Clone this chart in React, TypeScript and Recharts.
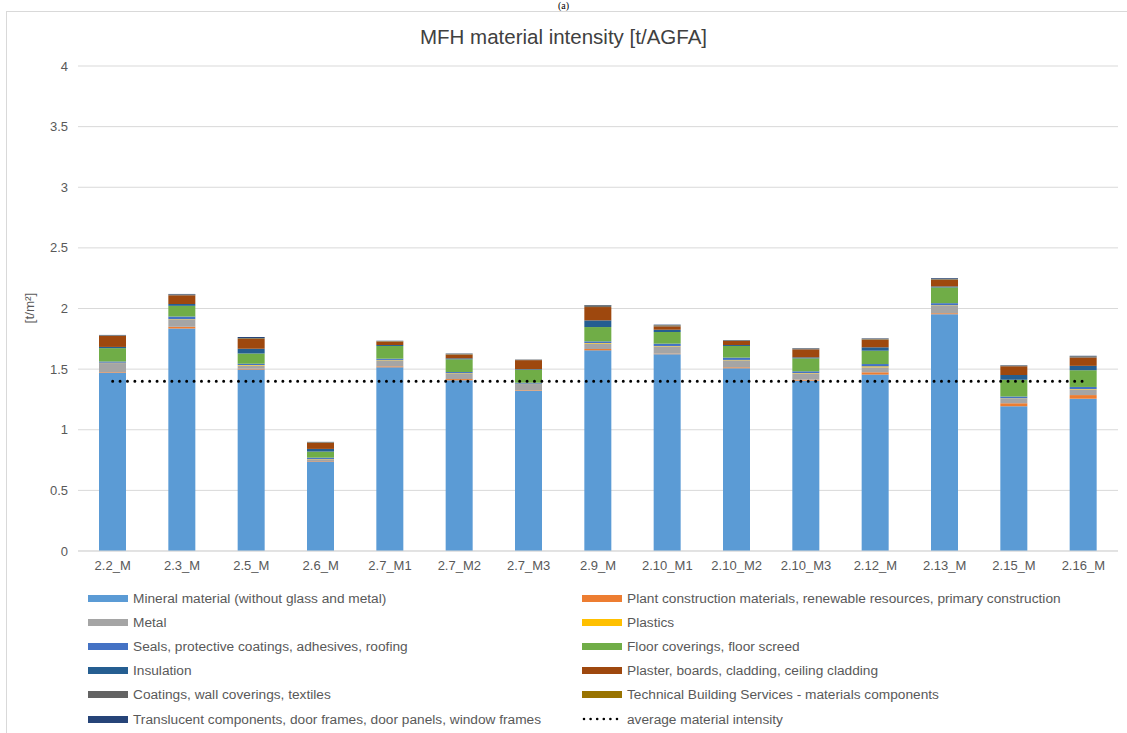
import { ComposedChart, Bar, Line, XAxis, YAxis, CartesianGrid } from 'recharts'

const categories = ['2.2_M', '2.3_M', '2.5_M', '2.6_M', '2.7_M1', '2.7_M2', '2.7_M3', '2.9_M', '2.10_M1', '2.10_M2', '2.10_M3', '2.12_M', '2.13_M', '2.15_M', '2.16_M']

const mineral = [1.47, 1.835, 1.496, 0.738, 1.515, 1.408, 1.32, 1.655, 1.623, 1.507, 1.405, 1.455, 1.953, 1.193, 1.256]
const plant = [0.005, 0.014, 0.008, 0.004, 0.008, 0.01, 0.005, 0.011, 0.005, 0.008, 0.008, 0.019, 0.008, 0.025, 0.03]
const metal = [0.075, 0.06, 0.025, 0.015, 0.05, 0.044, 0.052, 0.044, 0.06, 0.058, 0.052, 0.041, 0.063, 0.039, 0.047]
const plastics = [0.003, 0.003, 0.005, 0.002, 0.003, 0.004, 0.003, 0.005, 0.003, 0.003, 0.003, 0.008, 0.003, 0.003, 0.003]
const seals = [0.01, 0.022, 0.01, 0.011, 0.01, 0.01, 0.008, 0.014, 0.019, 0.019, 0.014, 0.019, 0.017, 0.014, 0.017]
const floor = [0.11, 0.088, 0.085, 0.05, 0.105, 0.105, 0.107, 0.118, 0.096, 0.096, 0.107, 0.11, 0.13, 0.138, 0.138]
const insulation = [0.01, 0.015, 0.039, 0.022, 0.008, 0.008, 0.005, 0.055, 0.019, 0.008, 0.008, 0.028, 0.008, 0.039, 0.036]
const plaster = [0.09, 0.072, 0.08, 0.05, 0.028, 0.03, 0.074, 0.11, 0.028, 0.033, 0.066, 0.063, 0.055, 0.072, 0.069]
const coatings = [0.003, 0.004, 0.006, 0.003, 0.003, 0.004, 0.002, 0.008, 0.006, 0.003, 0.004, 0.004, 0.005, 0.003, 0.005]
const tbs = [0.002, 0.002, 0.003, 0.002, 0.002, 0.003, 0.001, 0.004, 0.003, 0.002, 0.002, 0.003, 0.003, 0.002, 0.003]
const translucent = [0.004, 0.005, 0.007, 0.003, 0.002, 0.003, 0.002, 0.005, 0.005, 0.003, 0.004, 0.004, 0.006, 0.003, 0.006]
const average = [1.4, 1.4, 1.4, 1.4, 1.4, 1.4, 1.4, 1.4, 1.4, 1.4, 1.4, 1.4, 1.4, 1.4, 1.4]

const yTicks = [0, 0.5, 1, 1.5, 2, 2.5, 3, 3.5, 4]

const series = [
  { key: 'mineral', name: 'Mineral material (without glass and metal)', color: '#5B9BD5', values: mineral },
  { key: 'plant', name: 'Plant construction materials, renewable resources, primary construction', color: '#ED7D31', values: plant },
  { key: 'metal', name: 'Metal', color: '#A5A5A5', values: metal },
  { key: 'plastics', name: 'Plastics', color: '#FFC000', values: plastics },
  { key: 'seals', name: 'Seals, protective coatings, adhesives, roofing', color: '#4472C4', values: seals },
  { key: 'floor', name: 'Floor coverings, floor screed', color: '#70AD47', values: floor },
  { key: 'insulation', name: 'Insulation', color: '#255E91', values: insulation },
  { key: 'plaster', name: 'Plaster, boards, cladding, ceiling cladding', color: '#9E480E', values: plaster },
  { key: 'coatings', name: 'Coatings, wall coverings, textiles', color: '#636363', values: coatings },
  { key: 'tbs', name: 'Technical Building Services - materials components', color: '#997300', values: tbs },
  { key: 'translucent', name: 'Translucent components, door frames, door panels, window frames', color: '#264478', values: translucent },
]

const data = categories.map((name, i) => {
  const row: Record<string, string | number> = { name, avg: average[i] }
  series.forEach((s) => {
    row[s.key] = s.values[i]
  })
  return row
})

const font = '"Liberation Sans", Arial, sans-serif'
const textColor = '#595959'

function LegendBlock() {
  const items = [...series.map((s) => ({ name: s.name, color: s.color, dotted: false })), { name: 'average material intensity', color: '#000', dotted: true }]
  return (
    <>
      {items.map((it, i) => {
        const col = i % 2
        const row = Math.floor(i / 2)
        const left = col === 0 ? 88 : 582
        const top = 598 + row * 24.2
        return (
          <div
            key={it.name}
            style={{ position: 'absolute', left, top: top - 9, height: 18, display: 'flex', alignItems: 'center', whiteSpace: 'nowrap', fontFamily: font, fontSize: 13.7, color: textColor }}
          >
            {it.dotted ? (
              <svg width={40} height={8} style={{ marginRight: 5 }}>
                <line x1={2} y1={4} x2={38} y2={4} stroke="#000" strokeWidth={2.6} strokeDasharray="0 6.6" strokeLinecap="round" />
              </svg>
            ) : (
              <div style={{ width: 40, height: 7, background: it.color, marginRight: 5 }} />
            )}
            <span>{it.name}</span>
          </div>
        )
      })}
    </>
  )
}

export default function App() {
  return (
    <div style={{ position: 'absolute', left: 0, top: 0, width: 1127, height: 733, background: '#fff', overflow: 'hidden' }}>
      <div style={{ position: 'absolute', left: 0, right: 0, top: 0, textAlign: 'center', fontFamily: 'serif', fontSize: 10, lineHeight: '11px', color: '#000' }}>(a)</div>
      <div style={{ position: 'absolute', left: 6, top: 11, width: 1140, height: 740, border: '1px solid #d9d9d9' }} />
      <div style={{ position: 'absolute', left: 0, right: 0, top: 25, textAlign: 'center', fontFamily: font, fontSize: 20.5, color: '#404040' }}>
        MFH material intensity [t/AGFA]
      </div>
      <div
        style={{ position: 'absolute', left: 29, top: 308, transform: 'translate(-50%, -50%) rotate(-90deg)', fontFamily: font, fontSize: 13.5, color: textColor, whiteSpace: 'nowrap' }}
      >
        [t/m²]
      </div>
      <div style={{ position: 'absolute', left: 0, top: 0 }}>
        <ComposedChart width={1127} height={733} data={data} margin={{ top: 66, right: 9, left: 28, bottom: 152 }} barSize={27}>
          <CartesianGrid vertical={false} stroke="#d9d9d9" strokeWidth={1} />
          <XAxis
            dataKey="name"
            height={30}
            axisLine={{ stroke: '#d9d9d9' }}
            tickLine={false}
            tick={{ fontSize: 13, fill: textColor, fontFamily: font }}
            interval={0}
            tickMargin={4}
          />
          <YAxis
            width={50}
            domain={[0, 4]}
            ticks={yTicks}
            axisLine={false}
            tickLine={false}
            tick={{ fontSize: 13, fill: textColor, fontFamily: font }}
            tickMargin={4}
          />
          {series.map((s) => (
            <Bar key={s.key} dataKey={s.key} name={s.name} stackId="a" fill={s.color} isAnimationActive={false} />
          ))}
          <Line
            dataKey="avg"
            name="average material intensity"
            stroke="#000"
            strokeWidth={3}
            strokeDasharray="0 7.4"
            strokeLinecap="round"
            dot={false}
            activeDot={false}
            isAnimationActive={false}
          />
        </ComposedChart>
      </div>
      <LegendBlock />
    </div>
  )
}
